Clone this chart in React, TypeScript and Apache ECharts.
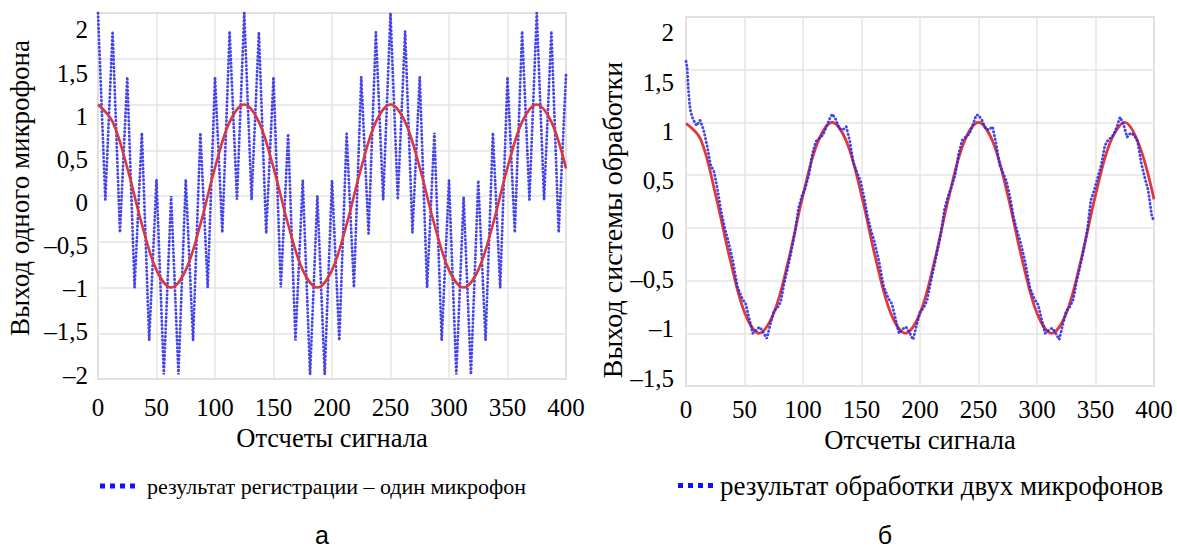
import { useEffect, useRef } from 'react';
import * as echarts from 'echarts';

// ---------- Left chart (а): one microphone ----------
const leftPeakX = [0, 12.5, 25, 37.5, 50, 62.5, 75, 87.5, 100, 112.5, 125, 137.5, 150, 162.5, 175, 187.5, 200, 212.5, 225, 237.5, 250, 262.5, 275, 287.5, 300, 312.5, 325, 337.5, 350, 362.5, 375, 387.5, 400];
const leftPeakY = [2.0, 1.8, 1.3, 0.69, 0.18, 0.0, 0.18, 0.69, 1.3, 1.8, 2.0, 1.79, 1.3, 0.68, 0.17, 0.0, 0.17, 0.68, 1.3, 1.79, 2.0, 1.8, 1.3, 0.69, 0.17, -0.01, 0.17, 0.69, 1.3, 1.8, 2.0, 1.8, 1.32];
const leftTroughX = [6.25, 18.75, 31.25, 43.75, 56.25, 68.75, 81.25, 93.75, 106.25, 118.75, 131.25, 143.75, 156.25, 168.75, 181.25, 193.75, 206.25, 218.75, 231.25, 243.75, 256.25, 268.75, 281.25, 293.75, 306.25, 318.75, 331.25, 343.75, 356.25, 368.75, 381.25, 393.75];
const leftTroughY = [-0.04, -0.4, -1.0, -1.58, -1.95, -1.95, -1.58, -1.0, -0.4, -0.04, -0.04, -0.41, -1.0, -1.58, -1.95, -1.95, -1.58, -1.0, -0.41, -0.04, -0.04, -0.4, -1.0, -1.58, -1.95, -1.95, -1.58, -1.0, -0.4, -0.04, -0.04, -0.4];
const leftRedX = leftPeakX;
const leftRedY = [1.0, 0.81, 0.31, -0.31, -0.81, -1.0, -0.81, -0.31, 0.31, 0.81, 1.0, 0.81, 0.31, -0.31, -0.81, -1.0, -0.81, -0.31, 0.31, 0.81, 1.0, 0.81, 0.31, -0.31, -0.81, -1.0, -0.81, -0.31, 0.31, 0.81, 1.0, 0.81, 0.3];

// ---------- Right chart (б): two microphones ----------
const rightBlueX = [0, 1, 2, 3, 4, 6, 9, 12, 15, 18, 21, 24, 27, 30, 33, 36, 40, 44, 48, 51, 54, 57, 60, 63, 66, 69, 72, 75, 78, 81, 84, 87, 90, 93, 96, 99, 102, 105, 108, 111, 114, 117, 120, 123, 125, 128, 131, 134, 137, 140, 143, 146, 149, 152, 155, 158, 161, 165, 169, 173, 176, 179, 182, 185, 188, 191, 194, 197, 200, 203, 206, 209, 212, 215, 218, 221, 224, 227, 230, 233, 236, 239, 242, 245, 248, 250, 253, 256, 259, 262, 265, 268, 271, 274, 277, 280, 283, 286, 290, 294, 298, 301, 304, 307, 310, 313, 316, 319, 322, 325, 328, 331, 334, 337, 340, 343, 346, 349, 352, 355, 358, 361, 364, 367, 371, 374, 377, 380, 383, 386, 389, 392, 395, 398, 400];
const rightBlueY = [1.58, 1.52, 1.32, 1.18, 1.1, 1.03, 0.97, 1.02, 0.93, 0.78, 0.6, 0.53, 0.36, 0.16, 0.0, -0.12, -0.31, -0.56, -0.67, -0.72, -0.86, -1.0, -0.97, -0.94, -0.99, -1.05, -0.92, -0.79, -0.76, -0.7, -0.52, -0.38, -0.22, -0.05, 0.18, 0.3, 0.38, 0.5, 0.7, 0.82, 0.85, 0.88, 0.96, 1.04, 1.08, 1.03, 0.94, 0.93, 0.96, 0.82, 0.62, 0.53, 0.45, 0.3, 0.12, -0.02, -0.13, -0.32, -0.56, -0.67, -0.72, -0.86, -1.0, -0.96, -0.94, -0.99, -1.06, -0.93, -0.8, -0.76, -0.69, -0.52, -0.37, -0.21, -0.04, 0.18, 0.3, 0.39, 0.5, 0.7, 0.83, 0.86, 0.89, 0.97, 1.07, 1.07, 1.02, 0.94, 0.93, 0.96, 0.8, 0.6, 0.52, 0.44, 0.29, 0.1, -0.03, -0.14, -0.33, -0.57, -0.68, -0.73, -0.87, -1.0, -0.97, -0.95, -1.0, -1.06, -0.92, -0.79, -0.75, -0.68, -0.5, -0.36, -0.2, -0.02, 0.26, 0.36, 0.48, 0.6, 0.78, 0.84, 0.86, 0.92, 1.05, 0.98, 0.86, 0.9, 0.88, 0.82, 0.62, 0.48, 0.36, 0.12, 0.06];
const rightRedX = [0, 12.5, 25, 37.5, 50, 62.5, 75, 87.5, 100, 112.5, 125, 137.5, 150, 162.5, 175, 187.5, 200, 212.5, 225, 237.5, 250, 262.5, 275, 287.5, 300, 312.5, 325, 337.5, 350, 362.5, 375, 387.5, 400];
const rightRedY = [0.99, 0.84, 0.33, -0.29, -0.8, -1.0, -0.81, -0.31, 0.31, 0.81, 1.0, 0.81, 0.31, -0.31, -0.81, -1.0, -0.81, -0.31, 0.31, 0.81, 1.0, 0.81, 0.31, -0.31, -0.81, -1.0, -0.81, -0.31, 0.31, 0.81, 1.0, 0.78, 0.27];

// ---------- Tick labels ----------
const leftYTicks = [-2, -1.5, -1, -0.5, 0, 0.5, 1, 1.5, 2];
const rightYTicks = [-1.5, -1, -0.5, 0, 0.5, 1, 1.5, 2];

// ---------- Texts ----------
const xName = 'Отсчеты сигнала';
const leftYName = 'Выход одного микрофона';
const rightYName = 'Выход системы обработки';
const leftLegend = 'результат регистрации – один микрофон';
const rightLegend = 'результат обработки двух микрофонов';
const panelLabels = ['а', 'б'];

const SERIF = "'Liberation Serif', 'Times New Roman', serif";
const SANS = "'Liberation Sans', Arial, sans-serif";
const BLUE = '#1010ff';

const fmt = (v: number) => (v < 0 ? '–' : '') + String(Math.abs(Math.round(v * 100) / 100)).replace('.', ',');

const zip = (xs: number[], ys: number[]) => xs.map((x, i) => [x, ys[i]]);
const interleave = (ax: number[], ay: number[], bx: number[], by: number[]) => {
  const out: number[][] = [];
  for (let i = 0; i < ax.length; i++) {
    out.push([ax[i], ay[i]]);
    if (i < bx.length) out.push([bx[i], by[i]]);
  }
  return out;
};

const gridLine = { show: true, lineStyle: { color: '#e4e4e4', width: 1.5 } };
const tickStyle = { fontFamily: SERIF, fontSize: 25, color: '#000' };
const titleStyle = { fontFamily: SERIF, fontSize: 26.5, color: '#000' };

function xAxisCfg(gridIndex: number, margin: number, nameGap: number) {
  return {
    gridIndex,
    type: 'value',
    min: 0,
    max: 400,
    interval: 50,
    axisLine: { show: false },
    axisTick: { show: false },
    splitLine: gridLine,
    axisLabel: { ...tickStyle, margin, showMinLabel: true, showMaxLabel: true },
    name: xName,
    nameLocation: 'middle',
    nameGap,
    nameTextStyle: titleStyle,
  };
}

// axis carrying the plot scale and grid lines
function yGridAxis(gridIndex: number, min: number, max: number) {
  return {
    gridIndex,
    type: 'value',
    min,
    max,
    interval: 0.5,
    axisLine: { show: false },
    axisTick: { show: false },
    splitLine: gridLine,
    axisLabel: { show: false },
  };
}

// axis carrying only the tick labels, placed as in the original figure
function yLabelAxis(gridIndex: number, min: number, max: number, ticks: number[], margin: number) {
  return {
    gridIndex,
    type: 'value',
    position: 'left',
    min,
    max,
    axisLine: { show: false },
    axisTick: { show: false },
    splitLine: { show: false },
    axisLabel: { ...tickStyle, margin, formatter: fmt, customValues: ticks },
  };
}

function legendCfg(name: string, left: number, top: number, fontSize: number, gap: number) {
  return {
    data: [name],
    left,
    top,
    itemWidth: 35,
    itemHeight: 5,
    selectedMode: false,
    icon: 'path://M0,0h5v5h-5z M10,0h5v5h-5z M20,0h5v5h-5z M30,0h5v5h-5z',
    itemStyle: { color: BLUE, borderWidth: 0, opacity: 1 },
    textStyle: { fontFamily: SERIF, fontSize, color: '#000', padding: [0, 0, 0, gap] },
  };
}

const blueDot = (width: number) => ({ color: '#2a2ae4', width, type: [0.4, 3.4], cap: 'round', opacity: 0.88 });

export default function App() {
  const ref = useRef<HTMLDivElement>(null);
  useEffect(() => {
    const chart = echarts.init(ref.current!, null, { renderer: 'svg' });
    chart.setOption({
      animation: false,
      backgroundColor: '#fff',
      grid: [
        { left: 98, top: 13, width: 468, height: 366, show: true, borderColor: '#c9c9c9', borderWidth: 1.5 },
        { left: 686, top: 17, width: 468, height: 369, show: true, borderColor: '#c9c9c9', borderWidth: 1.5 },
      ],
      xAxis: [xAxisCfg(0, 16, 45), xAxisCfg(1, 11, 38)],
      yAxis: [
        yGridAxis(0, -2, 2),
        yGridAxis(1, -1.5, 2),
        yLabelAxis(0, -2.046, 2.197, leftYTicks, 10),
        yLabelAxis(1, -1.581, 2.162, rightYTicks, 12),
      ],
      legend: [legendCfg(leftLegend, 95, 470, 22, 7), legendCfg(rightLegend, 673, 467, 27, 2)],
      series: [
        {
          name: leftLegend,
          type: 'line',
          xAxisIndex: 0,
          yAxisIndex: 0,
          symbol: 'none',
          itemStyle: { color: BLUE },
          data: interleave(leftPeakX, leftPeakY, leftTroughX, leftTroughY),
          lineStyle: blueDot(2.8),
          z: 2,
        },
        {
          name: 'сглаженный сигнал а',
          type: 'line',
          xAxisIndex: 0,
          yAxisIndex: 0,
          symbol: 'none',
          smooth: 0.35,
          data: zip(leftRedX, leftRedY),
          lineStyle: { color: '#d8383e', width: 2.6 },
          z: 3,
        },
        {
          name: 'сглаженный сигнал б',
          type: 'line',
          xAxisIndex: 1,
          yAxisIndex: 1,
          symbol: 'none',
          smooth: 0.35,
          data: zip(rightRedX, rightRedY),
          lineStyle: { color: '#e0383e', width: 2.8 },
          z: 2,
        },
        {
          name: rightLegend,
          type: 'line',
          xAxisIndex: 1,
          yAxisIndex: 1,
          symbol: 'none',
          itemStyle: { color: BLUE },
          data: zip(rightBlueX, rightBlueY),
          lineStyle: blueDot(2.8),
          z: 3,
        },
      ],
      graphic: [
        { type: 'text', x: 20, y: 188, rotation: Math.PI / 2, style: { text: leftYName, font: `27px ${SERIF}`, fill: '#000', textAlign: 'center', textVerticalAlign: 'middle' } },
        { type: 'text', x: 612, y: 220, rotation: Math.PI / 2, style: { text: rightYName, font: `28px ${SERIF}`, fill: '#000', textAlign: 'center', textVerticalAlign: 'middle' } },
        { type: 'text', x: 322, y: 535, style: { text: panelLabels[0], font: `25px ${SANS}`, fill: '#000', textAlign: 'center', textVerticalAlign: 'middle' } },
        { type: 'text', x: 885, y: 535, style: { text: panelLabels[1], font: `25px ${SANS}`, fill: '#000', textAlign: 'center', textVerticalAlign: 'middle' } },
      ],
    });
    return () => chart.dispose();
  }, []);
  return <div ref={ref} style={{ position: 'fixed', left: 0, top: 0, width: 1177, height: 550, background: '#fff' }} />;
}
